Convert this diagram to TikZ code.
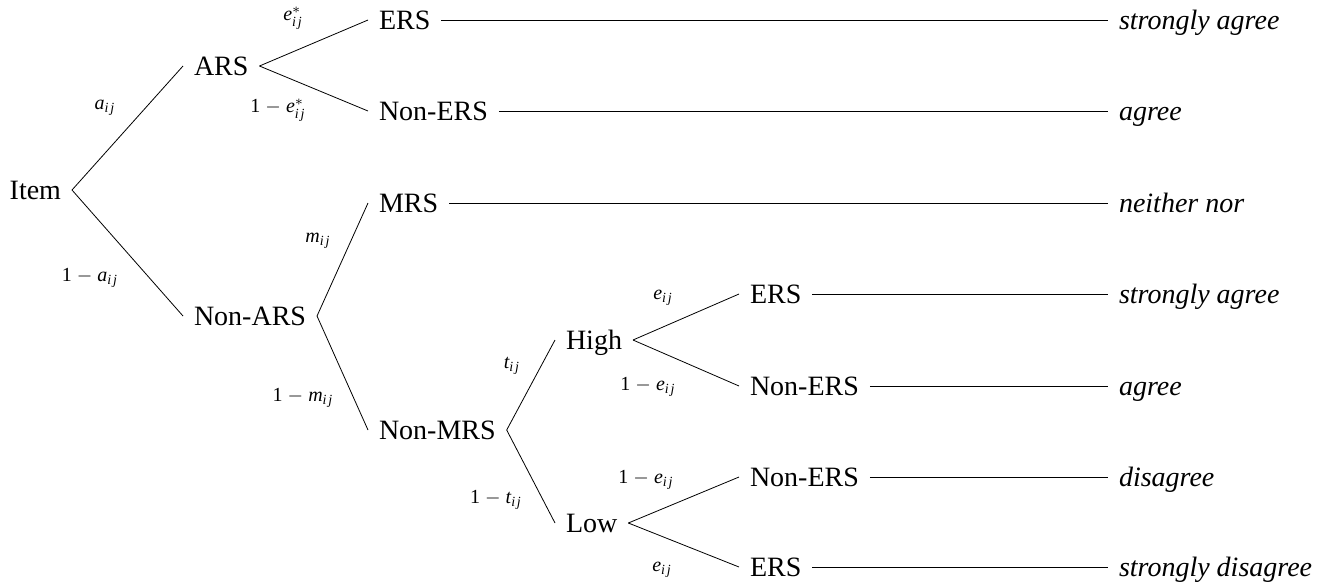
\documentclass[tikz,border=0pt]{standalone}
\usepackage{fontspec}
\setmainfont{Liberation Serif}

\begin{document}
\begin{tikzpicture}[x=0.5pt, y=-0.5pt,
  state/.style={inner sep=5.5pt, outer sep=0pt, text height=9.3pt, text depth=0pt,
    font=\fontsize{14}{16}\selectfont},
  answer/.style={state, anchor=west, font=\fontsize{14}{16}\selectfont\itshape},
  prob/.style={inner sep=0pt, font=\fontsize{10}{12}\selectfont}]
\useasboundingbox (0,0) rectangle (1332,585);
% states of the tree
\node[state, anchor=east] (item) at (72,190) {Item};
\node[state, anchor=west] (ars) at (183,66) {ARS};
\node[state, anchor=west] (nonars) at (183,316) {Non-ARS};
\node[state, anchor=west] (ers1) at (368,20) {ERS};
\node[state, anchor=west] (noners1) at (368,111) {Non-ERS};
\node[state, anchor=west] (mrs) at (368,203) {MRS};
\node[state, anchor=west] (nonmrs) at (368,430) {Non-MRS};
\node[state, anchor=west] (high) at (555,340) {High};
\node[state, anchor=west] (low) at (555,523) {Low};
\node[state, anchor=west] (ers2) at (739,294) {ERS};
\node[state, anchor=west] (noners2) at (739,386) {Non-ERS};
\node[state, anchor=west] (noners3) at (739,477) {Non-ERS};
\node[state, anchor=west] (ers3) at (739,567) {ERS};
% answers
\node[answer] (sa1) at (1108,20) {strongly agree};
\node[answer] (ag1) at (1108,111) {agree};
\node[answer] (nn) at (1108,203) {neither nor};
\node[answer] (sa2) at (1108,294) {strongly agree};
\node[answer] (ag2) at (1108,386) {agree};
\node[answer] (di) at (1108,477) {disagree};
\node[answer] (sd) at (1108,567) {strongly disagree};
% branches
\draw (item.east) -- (ars.west);
\draw (item.east) -- (nonars.west);
\draw (ars.east) -- (ers1.west);
\draw (ars.east) -- (noners1.west);
\draw (nonars.east) -- (mrs.west);
\draw (nonars.east) -- (nonmrs.west);
\draw (nonmrs.east) -- (high.west);
\draw (nonmrs.east) -- (low.west);
\draw (high.east) -- (ers2.west);
\draw (high.east) -- (noners2.west);
\draw (low.east) -- (noners3.west);
\draw (low.east) -- (ers3.west);
\draw (ers1.east) -- (sa1.west);
\draw (noners1.east) -- (ag1.west);
\draw (mrs.east) -- (nn.west);
\draw (ers2.east) -- (sa2.west);
\draw (noners2.east) -- (ag2.west);
\draw (noners3.east) -- (di.west);
\draw (ers3.east) -- (sd.west);
% probabilities
\node[prob] (pa) at (105,108) {$\mathit{a}_{\mathit{i}\mkern2mu\mathit{j}}$};
\node[prob] (pna) at (90,278) {1 $-$ $\mathit{a}_{\mathit{i}\mkern2mu\mathit{j}}$};
\node[prob] (pe1) at (293,18) {$\mathit{e}^{*}_{\mathit{i}\mkern2mu\mathit{j}}$};
\node[prob] (pne1) at (278,110) {1 $-$ $\mathit{e}^{*}_{\mathit{i}\mkern2mu\mathit{j}}$};
\node[prob] (pm) at (318,241) {$\mathit{m}_{\mathit{i}\mkern2mu\mathit{j}}$};
\node[prob] (pnm) at (303,398) {1 $-$ $\mathit{m}_{\mathit{i}\mkern2mu\mathit{j}}$};
\node[prob] (pt) at (512,366) {$\mathit{t}_{\mathit{i}\mkern2mu\mathit{j}}$};
\node[prob] (pnt) at (496,500) {1 $-$ $\mathit{t}_{\mathit{i}\mkern2mu\mathit{j}}$};
\node[prob] (pe2) at (663,298) {$\mathit{e}_{\mathit{i}\mkern2mu\mathit{j}}$};
\node[prob] (pne2) at (648,387) {1 $-$ $\mathit{e}_{\mathit{i}\mkern2mu\mathit{j}}$};
\node[prob] (pne3) at (646,480) {1 $-$ $\mathit{e}_{\mathit{i}\mkern2mu\mathit{j}}$};
\node[prob] (pe3) at (662,570) {$\mathit{e}_{\mathit{i}\mkern2mu\mathit{j}}$};
\end{tikzpicture}
\end{document}
